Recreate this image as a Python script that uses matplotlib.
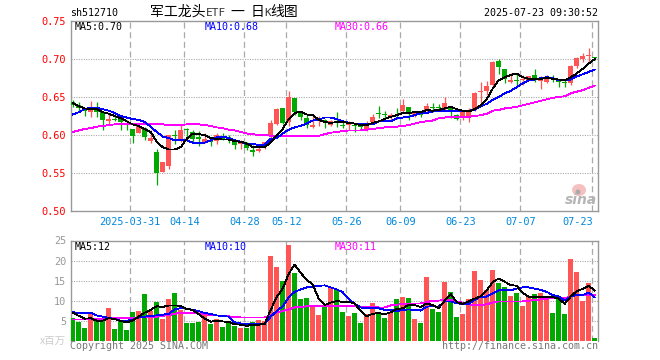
import matplotlib
matplotlib.use("Agg")
import matplotlib.pyplot as plt
from matplotlib.patches import Ellipse

W, H = 660, 360
RED, GREEN = "#ff5555", "#00a800"
mono = "DejaVu Sans Mono"
cjk = ["Noto Sans CJK SC", "DejaVu Sans"]

opens = [.644,.639,.633,.630,.635,.630,.618,.621,.621,.616,.608,.603,.609,.592,.578,.551,.559,.600,.595,.608,.604,.597,.591,.593,.592,.597,.597,.591,.588,.588,
         .580,.579,.587,.600,.614,.636,.617,.649,.629,.622,.611,.618,.620,.613,.617,.613,.613,.613,.612,.608,.617,.628,.627,.625,.626,.632,.637,.625,.629,.632,
         .637,.636,.636,.637,.626,.625,.625,.633,.656,.658,.666,.697,.687,.670,.672,.672,.672,.679,.671,.670,.675,.671,.670,.669,.691,.700,.704,.702]
highs = [.646,.644,.635,.645,.643,.632,.628,.627,.624,.620,.608,.615,.610,.607,.582,.564,.600,.607,.613,.609,.607,.605,.602,.593,.603,.602,.600,.591,.593,.591,
         .587,.584,.591,.620,.635,.636,.658,.649,.631,.626,.625,.625,.621,.620,.630,.617,.619,.615,.615,.619,.628,.638,.631,.629,.636,.647,.637,.632,.632,.642,
         .642,.641,.650,.638,.628,.633,.636,.657,.670,.671,.697,.700,.687,.682,.680,.679,.678,.687,.677,.679,.679,.674,.672,.692,.703,.708,.715,.703]
lows = [.637,.630,.625,.624,.624,.607,.615,.618,.607,.607,.590,.602,.593,.589,.534,.551,.555,.588,.591,.598,.589,.586,.590,.586,.588,.593,.590,.581,.582,.580,
        .572,.577,.582,.596,.613,.614,.612,.626,.620,.609,.609,.612,.609,.612,.611,.609,.607,.604,.607,.605,.615,.622,.622,.618,.621,.629,.620,.624,.624,.629,
        .630,.631,.633,.623,.620,.620,.617,.632,.639,.653,.664,.680,.668,.668,.663,.666,.672,.670,.661,.668,.670,.663,.663,.666,.688,.696,.696,.699]
closes = [.640,.635,.631,.636,.630,.620,.621,.620,.617,.614,.599,.612,.598,.596,.550,.564,.600,.599,.607,.607,.595,.595,.595,.591,.600,.595,.593,.587,.589,.583,
          .578,.582,.591,.616,.634,.616,.650,.630,.624,.613,.613,.620,.617,.618,.616,.612,.616,.612,.611,.616,.624,.627,.626,.626,.625,.640,.629,.630,.626,.638,
          .636,.635,.642,.632,.621,.630,.631,.655,.657,.664,.696,.690,.674,.672,.671,.674,.678,.674,.672,.675,.674,.670,.669,.691,.701,.704,.705,.701]

ma5 = [.642,.638,.635,.634,.634,.630,.628,.625,.622,.618,.614,.612,.608,.604,.591,.584,.581,.581,.584,.595,.602,.601,.600,.596,.595,.594,.594,.592,.591,.589,
       .584,.584,.584,.590,.600,.608,.621,.629,.631,.627,.626,.620,.617,.616,.617,.617,.616,.615,.613,.613,.616,.618,.621,.624,.626,.629,.629,.630,.630,.633,
       .632,.633,.635,.637,.634,.632,.631,.634,.639,.647,.661,.672,.676,.679,.681,.676,.674,.674,.674,.675,.674,.673,.672,.676,.681,.687,.694,.700]
ma10 = [.627,.630,.634,.636,.636,.634,.632,.629,.625,.623,.621,.620,.617,.611,.604,.598,.596,.593,.593,.593,.590,.590,.590,.593,.597,.598,.596,.593,.591,.588,
        .588,.587,.587,.595,.596,.602,.607,.610,.612,.615,.619,.620,.623,.623,.621,.618,.616,.615,.614,.614,.614,.618,.618,.618,.622,.623,.624,.626,.629,.629,
        .631,.632,.632,.632,.632,.632,.632,.633,.638,.641,.646,.650,.655,.658,.663,.668,.672,.673,.675,.676,.675,.672,.672,.673,.677,.680,.683,.686]
ma30 = [.604,.606,.608,.609,.611,.612,.613,.614,.614,.614,.615,.615,.615,.615,.614,.614,.613,.613,.613,.614,.614,.614,.613,.612,.610,.609,.607,.606,.604,.602,
        .601,.600,.600,.599,.599,.599,.599,.599,.599,.599,.599,.599,.601,.603,.604,.605,.606,.606,.606,.607,.608,.609,.610,.610,.611,.612,.613,.615,.617,.618,
        .619,.622,.623,.624,.624,.624,.624,.625,.626,.628,.632,.633,.635,.636,.637,.639,.641,.643,.645,.647,.649,.650,.651,.655,.657,.659,.662,.665]

volume = [5.6,4.75,3.25,6.6,5.0,5.4,8.2,2.9,5.0,2.7,7.2,7.4,11.7,7.4,9.7,5.4,10.4,11.9,7.7,4.4,4.4,4.75,6.4,4.2,5.4,3.4,4.9,3.7,3.2,3.2,
          4.7,5.2,4.9,21.2,18.4,14.9,23.9,16.9,10.4,10.7,8.4,6.4,8.9,13.4,12.7,7.2,6.2,6.9,4.4,6.7,9.4,6.9,5.7,6.9,10.4,10.9,10.7,5.4,4.4,15.9,
          7.9,7.2,14.7,12.2,5.9,6.7,10.4,17.4,15.2,12.7,17.7,14.4,13.4,11.2,11.9,8.7,10.9,11.7,11.9,10.7,6.9,10.9,6.7,20.4,17.2,9.9,14.4,0.7]
vol_up = [0,0,0,1,0,0,1,0,0,0,0,1,0,1,0,1,1,0,1,0,0,0,1,0,1,0,0,0,1,0,
          0,1,1,1,1,0,1,0,0,0,1,1,0,1,0,0,1,0,0,1,1,0,0,1,0,1,0,1,0,1,
          0,0,1,0,0,1,1,1,1,1,1,0,0,1,0,1,1,0,1,1,0,0,0,1,1,1,1,0]
vol5 = [7.0,6.2,5.5,5.6,5.0,5.0,5.6,5.4,4.9,4.6,5.0,6.0,7.0,7.7,8.6,8.4,8.8,8.8,8.7,7.9,7.7,6.6,5.5,4.75,5.0,4.8,4.7,4.1,4.0,3.7,
        4.0,4.0,4.2,7.7,10.9,13.0,16.7,19.0,16.9,15.2,14.0,10.5,8.9,9.5,9.9,9.7,9.7,9.3,7.4,6.1,6.7,6.9,6.6,7.1,7.9,8.1,8.9,8.9,8.4,9.3,
        8.9,8.1,10.0,11.6,9.6,9.2,9.8,10.5,11.1,12.5,14.7,15.5,14.7,13.9,13.7,11.9,11.0,10.9,11.0,10.9,10.9,10.5,9.2,11.0,12.4,12.9,13.7,12.5]
vol10 = [7.1,6.9,6.8,7.0,6.3,6.0,5.7,5.4,5.0,5.0,5.2,5.8,6.0,6.2,6.3,6.5,6.7,7.8,8.1,8.0,7.7,7.4,6.9,6.7,6.3,6.2,6.0,4.6,4.3,4.2,
         4.2,4.2,4.2,6.0,7.4,8.6,10.8,12.2,12.8,13.3,13.5,13.7,13.8,13.3,12.8,12.1,10.4,9.2,8.3,8.1,8.1,8.1,7.7,7.7,7.4,7.7,7.8,7.7,7.5,8.5,
         8.6,8.5,9.8,9.8,9.3,9.2,9.2,10.2,11.0,11.0,11.8,12.6,12.6,12.6,13.0,13.3,13.3,13.0,12.7,12.2,11.4,11.0,10.0,11.0,11.4,11.4,12.0,10.8]
vol30 = [5.3,5.3,5.3,5.3,5.4,5.5,5.6,5.6,5.6,5.6,5.6,5.8,5.9,6.0,6.0,6.2,6.4,6.7,7.0,7.0,6.9,6.8,6.6,6.4,6.3,6.2,6.1,5.9,5.8,5.8,
         5.8,5.8,5.8,6.4,7.0,7.4,7.8,8.3,8.4,8.6,8.6,8.6,8.6,8.6,8.6,8.6,8.6,8.6,8.5,8.5,8.4,8.3,8.3,8.8,9.0,9.1,9.2,9.3,9.3,9.6,
         10.0,10.0,10.2,10.2,9.8,9.5,9.1,8.8,8.9,9.1,9.5,9.8,9.8,9.8,9.8,9.8,10.0,10.1,10.3,10.5,10.6,10.6,10.6,11.0,11.4,11.4,11.3,11.3]

date_labels = ["2025-03-31","04-14","04-28","05-12","05-26","06-09","06-23","07-07","07-23"]
grid_pos = [9.6,18.6,28.6,35.6,45.6,54.6,64.6,74.6,86.6]
label_pos = [9.6,18.6,28.6,35.6,45.6,54.6,64.6,74.6,84.1]
price_ticks = [0.50,0.55,0.60,0.65,0.70,0.75]
vol_ticks = [5,10,15,20,25]

def axes_px(x0, x1, ytop, ybot):
    return [x0/W, 1-ybot/H, (x1-x0)/W, (ybot-ytop)/H]

fig = plt.figure(figsize=(W/100, H/100), dpi=100, facecolor="white")
ax = fig.add_axes(axes_px(70.5, 597.5, 21, 211))
av = fig.add_axes(axes_px(70.5, 597.5, 240.5, 340.7))

def to_i(px):
    return (px-72.7)/6
xlim = (to_i(70.5), to_i(597.5))

for a in (ax, av):
    a.set_xlim(*xlim)
    a.tick_params(length=0)
    a.set_xticks([])
    for s in a.spines.values():
        s.set_color("#999999"); s.set_linewidth(1.0)
    for g in grid_pos:
        a.axvline(g, color="#aaaaaa", lw=0.9, dashes=(4.8, 2.9), zorder=1)
ax.set_ylim(0.50, 0.75)
av.set_ylim(0, 25)
av.spines["bottom"].set_visible(False)

for p in price_ticks[1:-1]:
    ax.axhline(p, color="#aaaaaa", lw=0.8, dashes=(1, 1.2), zorder=1)
for v in vol_ticks[:-1]:
    av.axhline(v, color="#aaaaaa", lw=0.8, dashes=(1, 1.2), zorder=1)

ax.set_yticks(price_ticks)
ax.set_yticklabels([f"{p:.2f}" for p in price_ticks], color="#ff0000", family=mono, fontsize=7.4)
av.set_yticks(vol_ticks)
av.set_yticklabels([str(v) for v in vol_ticks], color="#999999", family=mono, fontsize=7.4)
ax.tick_params(axis="y", pad=3)
av.tick_params(axis="y", pad=3)

# candles
for i, (o, h, l, c) in enumerate(zip(opens, highs, lows, closes)):
    col = RED if c >= o else GREEN
    ax.vlines(i, l, h, color=col, lw=0.9, zorder=3)
    lo, hi = min(o, c), max(o, c)
    ax.bar(i, max(hi-lo, 0.0013), bottom=lo, width=5/6, color=col, lw=0, antialiased=False, zorder=3)

xs = list(range(len(closes)))
for series, col in ((ma30, "#ff00ff"), (ma10, "#0000ff"), (ma5, "#000000")):
    ax.plot(xs, series, color=col, lw=0.6, antialiased=False, zorder=4)

av.bar(xs, volume, width=5/6, color=[RED if u else GREEN for u in vol_up], lw=0, antialiased=False, zorder=3)
for series, col in ((vol30, "#ff00ff"), (vol10, "#0000ff"), (vol5, "#000000")):
    av.plot(xs, series, color=col, lw=0.6, antialiased=False, zorder=4)

# date labels
for lab, pos in zip(date_labels, label_pos):
    ax.annotate(lab, xy=(pos, 0.50), xytext=(0, -11), textcoords="offset pixels", ha="center", va="center",
                family=mono, fontsize=7.4, color="#0088dd", annotation_clip=False)

def txt(x, y, s, **kw):
    kw.setdefault("family", mono)
    kw.setdefault("fontsize", 7.2)
    kw.setdefault("color", "black")
    kw.setdefault("va", "center")
    fig.text(x/W, 1-y/H, s, **kw)

txt(70, 13, "sh512710")
txt(150, 12, "军工龙头", family=cjk, fontsize=10)
txt(206, 12.5, "ETF", fontsize=8, color="#333333")
txt(230, 12, "一", family=cjk, fontsize=10)
txt(251, 12, "日", family=cjk, fontsize=10)
txt(264, 12.5, "K", fontsize=8, color="#333333")
txt(270, 12, "线图", family=cjk, fontsize=10)
txt(598, 13, "2025-07-23 09:30:52", ha="right")
txt(75, 27.5, "MA5:0.70")
txt(205, 27.5, "MA10:0.68", color="#0000ff")
txt(335, 27.5, "MA30:0.66", color="#ff00ff")
txt(75, 246.5, "MA5:12")
txt(205, 246.5, "MA10:10", color="#0000ff")
txt(335, 246.5, "MA30:11", color="#ff00ff")
txt(66, 341, "x百万", ha="right", color="#cccccc", family=cjk, fontsize=7.5)
txt(70, 346, "Copyright 2025 SINA.COM", color="#777777")
txt(598, 346, "http://finance.sina.com.cn", ha="right", color="#777777")

# watermark
fig.add_artist(Ellipse((579/W, 1-190/H), 14/W, 12/H, transform=fig.transFigure, fc="#f7c0c0", ec="none", zorder=1))
fig.add_artist(Ellipse((578/W, 1-192/H), 5/W, 5/H, transform=fig.transFigure, fc="#aaaaaa", ec="none", zorder=2))
txt(581, 200, "sina", ha="center", color="#b5b5b5", family="DejaVu Sans", fontweight="bold", style="italic", fontsize=10, zorder=3)

fig.savefig("out.png", dpi=100, facecolor="white")
